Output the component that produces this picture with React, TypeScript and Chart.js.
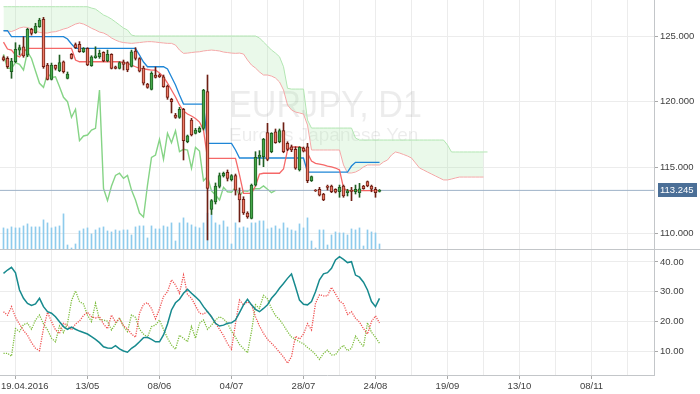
import React, { useEffect, useRef } from "react";
import { Chart, registerables } from "chart.js";

Chart.register(...registerables);

// ---------- data ----------
const symbolTitle = "EURJPY, D1";
const symbolSubtitle = "Euro vs Japanese Yen";
const xLabels = ["19.04.2016", "13/05", "08/06", "04/07", "28/07", "24/08", "19/09", "13/10", "08/11"];
const firstLabelBar = 3;
const labelEvery = 18;
const gridEvery = 9;
const gridCount = 18;
const priceTicks = [110, 115, 120, 125];
const oscTicks = [10, 20, 30, 40];
const lastPrice = 113.245;

const open = [123.36,123.30,122.28,123.04,123.93,124.18,123.55,125.51,125.25,125.71,126.27,122.79,121.70,122.77,122.36,123.04,121.78,123.61,124.35,124.37,123.80,124.06,122.74,123.35,123.42,123.76,123.10,123.61,122.66,122.54,123.04,122.98,122.69,123.86,123.29,122.56,121.34,120.94,122.03,122.03,121.90,121.19,120.18,118.98,118.81,119.42,116.95,118.60,117.59,117.71,117.97,120.76,111.79,112.36,113.54,114.34,114.62,114.07,114.38,112.99,112.57,111.52,111.12,113.65,115.76,115.81,117.64,116.19,117.71,116.95,117.79,116.83,116.57,116.37,114.80,116.47,116.57,113.98,113.27,113.33,112.97,113.58,113.58,113.33,113.14,113.58,113.07,113.27,113.14,113.07,113.58,113.91,113.58,113.33,113.16];
const high = [123.48,123.42,123.30,124.49,124.31,124.95,125.59,125.59,125.97,126.35,126.42,122.92,122.94,122.79,123.55,123.10,122.26,123.67,124.47,124.57,124.12,124.11,123.50,124.18,123.93,123.80,123.93,123.65,122.71,123.04,123.17,123.04,123.93,124.11,123.35,122.71,121.40,122.28,122.64,122.11,122.03,121.27,120.26,119.11,119.57,119.49,117.46,118.73,117.97,118.09,120.94,122.03,112.55,113.81,114.57,114.64,114.80,114.45,114.49,113.43,112.76,111.62,113.73,116.19,116.27,117.21,118.35,117.64,117.92,117.92,118.40,116.95,116.70,116.57,116.57,116.55,116.83,114.34,113.31,113.48,113.02,113.65,113.65,113.37,113.65,113.65,113.33,113.48,113.65,113.78,113.63,113.96,113.65,113.48,113.31];
const low = [123.10,122.54,121.78,122.97,123.55,123.38,123.42,125.07,125.20,125.66,122.54,121.65,121.65,122.41,122.28,122.18,121.73,123.25,124.05,123.76,123.74,122.74,122.69,123.30,123.30,123.04,123.04,122.49,122.49,122.49,122.41,122.28,122.64,123.17,122.26,121.27,121.02,120.89,121.80,121.84,121.09,120.18,119.14,118.73,118.73,115.56,116.87,117.39,117.54,117.64,117.84,109.47,111.41,112.21,113.43,114.26,113.96,113.96,112.89,110.84,111.41,111.12,111.07,113.58,115.18,115.05,115.50,116.11,116.83,116.87,116.11,116.27,116.19,114.85,114.72,116.17,113.83,113.92,113.16,112.82,112.46,113.27,113.07,113.05,112.72,112.72,112.82,112.46,112.97,112.72,113.33,113.52,113.14,112.72,113.12];
const close = [123.17,122.66,123.10,123.99,124.11,123.48,125.51,125.20,125.76,126.22,122.66,121.70,122.79,122.54,122.97,122.28,122.11,123.30,124.12,123.80,124.06,122.79,123.42,123.50,123.68,123.10,123.61,122.54,122.54,122.97,122.84,122.41,123.80,123.29,122.33,121.40,121.09,122.16,121.85,121.90,121.14,120.33,120.00,118.81,119.42,117.03,117.39,117.46,117.84,117.97,120.89,113.40,112.47,113.58,114.38,114.55,114.16,114.38,113.27,112.51,111.52,111.22,113.65,115.76,115.94,117.13,115.61,117.59,116.87,117.79,116.19,116.37,116.32,114.93,116.52,116.24,113.98,114.29,113.20,112.89,112.51,113.48,113.14,113.10,113.48,112.82,113.22,113.17,113.33,113.37,113.37,113.58,113.33,113.07,113.245];
const volume = [66,63,69,66,66,72,78,69,69,69,90,81,66,69,72,108,15,6,18,57,63,66,48,60,66,69,57,54,60,57,60,60,45,69,72,72,36,72,63,63,72,69,81,27,81,96,81,75,69,66,81,110,105,81,75,87,69,18,81,66,69,66,81,81,87,87,63,66,72,63,81,66,60,57,78,66,96,27,6,60,60,15,45,54,51,51,45,63,60,66,12,60,54,51,18];

const tenkan = [124.54,124.01,123.93,123.55,123.40,123.78,124.06,124.06,124.06,124.06,124.06,124.06,124.06,124.06,124.06,124.06,124.06,124.06,123.17,123.04,123.04,123.04,123.04,123.04,123.04,123.04,123.04,123.04,123.04,123.04,122.98,122.92,122.79,122.66,122.54,122.49,122.45,122.41,122.41,122.18,121.88,121.42,120.89,120.36,119.75,119.29,119.06,118.91,118.72,118.45,117.84,115.69,115.69,115.69,115.69,115.69,115.69,115.69,115.69,114.42,113.02,113.02,113.02,113.58,114.49,114.55,114.55,114.55,114.55,114.55,114.87,116.32,116.55,116.55,116.55,116.47,116.09,115.48,115.31,115.25,115.18,115.10,115.03,114.95,114.80,113.43,113.22,113.22,113.22,113.22,113.22,113.22,113.22,113.22,113.22];
const kijun = [125.40,125.40,124.95,124.95,124.95,124.95,124.95,124.95,124.95,124.95,124.95,124.95,124.95,124.95,124.95,124.95,124.77,124.39,124.06,124.06,124.06,124.06,124.06,124.06,124.06,124.06,124.06,124.06,124.06,124.06,124.06,124.06,124.06,124.06,123.55,123.02,122.66,122.66,122.66,122.66,122.66,122.49,121.88,121.27,120.51,119.82,119.82,119.82,119.82,119.82,119.82,116.83,116.83,116.83,116.83,116.83,116.83,116.83,116.32,115.71,115.71,115.71,115.71,115.71,115.71,115.71,115.71,115.71,115.71,115.71,115.71,115.71,115.71,115.71,115.71,115.71,114.64,114.64,114.64,114.64,114.64,114.64,114.64,114.64,114.64,114.64,114.64,115.10,115.38,115.38,115.38,115.38,115.38,115.38,115.38];
const chikou = [123.61,122.54,122.54,122.97,122.84,122.41,123.80,123.29,122.33,121.40,121.09,122.16,121.85,121.90,121.14,120.33,120.00,118.81,119.42,117.03,117.39,117.46,117.84,117.97,120.89,113.40,112.47,113.58,114.38,114.55,114.16,114.38,113.27,112.51,111.52,111.22,113.65,115.76,115.94,117.13,115.61,117.59,116.87,117.79,116.19,116.37,116.32,114.93,116.52,116.24,113.98,114.29,113.20,112.89,112.51,113.48,113.14,113.10,113.48,112.82,113.22,113.17,113.33,113.37,113.37,113.58,113.33,113.07,113.245];
const senkouA = [127.23,127.23,127.23,127.23,127.23,127.23,127.23,127.23,127.23,127.23,127.23,127.23,127.23,127.23,127.23,127.23,127.23,127.23,127.23,127.23,127.23,127.23,127.13,127.05,126.83,126.60,126.47,126.29,126.07,125.84,125.61,125.46,125.07,125.00,125.00,125.00,125.00,125.00,125.00,125.00,125.00,125.00,125.00,125.00,125.00,125.00,125.00,125.00,125.00,125.00,125.00,125.00,125.00,125.00,125.00,125.00,125.00,125.00,125.00,125.00,125.00,125.00,125.00,125.00,124.85,124.54,124.24,123.93,123.70,123.42,122.66,121.02,120.96,120.96,120.96,120.96,118.60,117.99,117.99,117.99,117.99,117.99,117.99,117.99,117.99,117.99,117.99,117.99,117.23,117.08,117.08,117.08,117.08,117.08,117.08,117.08,117.08,117.08,117.08,117.08,117.08,117.08,117.08,117.08,117.08,117.08,117.08,117.08,117.08,117.08,117.08,116.70,116.17,116.17,116.17,116.17,116.17,116.17,116.17,116.17,116.17,116.17];
const senkouB = [125.42,125.38,125.34,125.46,125.61,125.68,125.65,125.53,125.38,125.27,125.23,125.23,125.30,125.33,125.42,125.53,125.61,125.76,125.91,125.99,125.91,125.76,125.59,125.46,125.30,125.23,125.07,124.85,124.69,124.57,124.50,124.47,124.44,124.47,124.50,124.54,124.57,124.57,124.54,124.50,124.47,124.44,124.44,124.31,123.93,123.68,123.70,123.74,123.78,123.80,123.86,123.90,123.93,123.90,123.86,123.78,123.74,123.70,123.68,123.70,123.63,123.17,122.79,122.56,122.26,122.03,122.03,121.95,121.80,121.50,120.89,119.75,119.37,119.21,119.14,119.06,118.22,116.32,116.32,116.32,116.32,116.32,116.32,116.32,116.32,115.18,114.57,114.57,114.64,114.80,115.03,115.18,115.18,115.18,115.18,115.41,115.56,115.94,116.17,116.09,115.98,115.86,115.71,115.33,114.95,114.80,114.64,114.49,114.34,114.19,114.04,114.04,114.11,114.19,114.26,114.26,114.26,114.26,114.26,114.26,114.26];

const adx = [36.2,37.3,38.2,36.4,30.6,27.8,26.1,25.4,25.9,27.8,25.0,23.3,22.8,21.6,19.9,18.3,17.4,18.1,17.4,16.8,16.3,15.8,14.9,14.0,12.9,11.5,11.1,11.0,11.9,10.8,10.1,9.7,11.0,11.9,13.2,14.6,14.7,14.0,13.2,13.2,15.5,19.2,23.9,26.3,27.5,29.5,30.8,29.5,28.3,27.0,25.0,23.3,21.6,19.4,18.5,18.8,19.4,19.6,20.5,23.0,25.6,27.5,25.6,24.1,23.3,24.4,25.6,27.8,29.3,31.2,32.8,34.5,36.0,31.7,27.2,25.8,25.6,26.7,30.0,34.0,36.0,36.4,37.9,40.7,41.8,40.9,39.8,40.1,35.6,34.9,33.2,30.6,26.7,25.0,27.8];
const minusDI = [23.3,22.1,25.0,21.4,19.1,17.0,15.4,12.9,11.0,10.2,17.7,23.1,20.0,17.2,16.0,19.4,18.7,17.2,19.2,20.2,22.0,23.1,21.6,21.2,21.6,19.2,17.6,22.2,19.8,20.9,18.6,17.5,15.8,14.7,22.8,25.8,26.3,24.4,20.9,24.2,28.4,30.0,34.0,32.3,29.5,35.6,29.1,27.8,25.3,22.8,22.5,23.5,21.6,19.4,17.4,15.3,12.6,10.7,19.4,27.2,25.6,26.6,25.7,21.6,18.5,16.0,14.0,12.7,11.3,9.7,8.1,6.0,8.2,15.1,14.1,15.8,19.3,17.2,26.1,29.0,28.6,28.6,31.5,29.3,26.9,25.9,22.4,23.3,21.1,19.8,17.6,15.8,20.0,21.9,19.5];
const plusDI = [9.3,9.3,8.4,17.6,16.6,19.0,19.4,17.4,20.5,22.2,19.2,17.2,14.4,13.2,18.5,16.3,19.4,27.0,30.3,26.7,25.9,22.1,20.0,26.1,20.7,20.5,20.1,17.2,19.2,21.3,18.3,16.6,22.2,21.4,17.4,15.8,14.7,18.3,18.8,20.5,17.4,14.4,12.1,10.7,15.4,14.4,13.2,18.3,14.4,19.4,20.5,17.4,18.8,20.5,21.6,20.9,19.4,16.8,14.7,12.3,10.9,9.5,16.6,25.6,24.4,28.8,27.6,24.4,22.0,20.7,18.8,16.6,14.8,14.0,13.2,12.5,11.3,10.3,8.9,7.3,9.3,10.4,8.8,8.8,10.8,12.0,10.2,11.0,15.1,13.2,11.6,19.6,16.4,14.7,12.7];

// ---------- layout / style ----------
const X_MIN = -0.875;
const X_MAX = 162.625;
const PRICE_MIN = 108.706;
const PRICE_MAX = 127.742;
const OSC_MIN = 2.04;
const OSC_MAX = 44.03;
const VOL_MAX = 747;
const AXIS_W = 46;

const FONT = "'Liberation Sans', Arial, sans-serif";
const TICK_FONT = { family: FONT, size: 9.5 };
const TEXT = "#404040";
const GRID = "#ececec";
const AXIS = "#c3c6c9";
const TICKMARK = "#a9a9a9";

const G_FILL = "#45a84a";
const G_EDGE = "#1f5e22";
const R_FILL = "#ee7a66";
const R_EDGE = "#6e1f14";

const xy = (arr: number[]) => arr.map((v, i) => ({ x: i, y: v }));
const gridTicks = () => Array.from({ length: gridCount }, (_, m) => ({ value: firstLabelBar + gridEvery * m }));
const labelFor = (v: number) => {
  const m = (v - firstLabelBar) / labelEvery;
  if (!Number.isInteger(m) || m < 0 || m >= xLabels.length) return "";
  return m === 0 ? "       " + xLabels[0] : xLabels[m];
};
const isLabelTick = (v: number) => labelFor(v) !== "";

const yAxisFit = (s: any) => {
  s.width = AXIS_W;
  s.paddingTop = 0;
  s.paddingBottom = 0;
};

function topConfig(): any {
  const up = (i: number) => close[i] >= open[i];
  const n = open.length;
  const idxs = Array.from({ length: n }, (_, i) => i);
  return {
    type: "line",
    data: {
      datasets: [
        {
          type: "bar",
          label: "body",
          data: idxs.map((i) => ({ x: i, y: [Math.min(open[i], close[i]), Math.max(open[i], close[i])] })),
          backgroundColor: idxs.map((i) => (up(i) ? G_FILL : R_FILL)),
          borderColor: idxs.map((i) => (up(i) ? G_EDGE : R_EDGE)),
          borderWidth: 1,
          borderSkipped: false,
          barThickness: 3,
          grouped: false,
          order: 0,
        },
        {
          type: "bar",
          label: "wick",
          data: idxs.map((i) => ({ x: i, y: [low[i], high[i]] })),
          backgroundColor: idxs.map((i) => (up(i) ? G_EDGE : R_EDGE)),
          borderWidth: 0,
          barThickness: 1,
          grouped: false,
          order: 1,
        },
        { type: "line", label: "tenkan", data: xy(tenkan), borderColor: "rgba(244,96,96,0.95)", borderWidth: 1.3, pointRadius: 0, tension: 0, order: 2 },
        { type: "line", label: "kijun", data: xy(kijun), borderColor: "#1f86d6", borderWidth: 1.3, pointRadius: 0, tension: 0, order: 3 },
        {
          type: "line",
          label: "last",
          data: [{ x: X_MIN, y: lastPrice }, { x: X_MAX, y: lastPrice }],
          borderColor: "#9eb2c8",
          borderWidth: 1,
          pointRadius: 0,
          order: 4,
        },
        { type: "line", label: "chikou", data: xy(chikou), borderColor: "#86d486", borderWidth: 1.4, pointRadius: 0, tension: 0, order: 5 },
        {
          type: "bar",
          label: "volume",
          yAxisID: "yv",
          data: xy(volume),
          backgroundColor: "#8ecbec",
          borderWidth: 0,
          barThickness: 1,
          grouped: false,
          order: 6,
        },
        { type: "line", label: "senkouB", data: xy(senkouB), borderColor: "#f5a8a8", borderWidth: 1, pointRadius: 0, tension: 0, order: 7 },
        {
          type: "line",
          label: "senkouA",
          data: xy(senkouA),
          borderColor: "#b2e6b2",
          borderWidth: 1,
          pointRadius: 0,
          tension: 0,
          fill: "-1",
          backgroundColor: "rgba(160,226,160,0.22)",
          order: 8,
        },
      ],
    },
    options: {
      responsive: false,
      animation: false,
      events: [],
      layout: { padding: 0 },
      plugins: { legend: { display: false }, tooltip: { enabled: false } },
      scales: {
        x: {
          type: "linear",
          min: X_MIN,
          max: X_MAX,
          offset: false,
          grid: { color: GRID, drawTicks: false, offset: false },
          border: { display: false },
          ticks: { display: false },
          afterBuildTicks: (s: any) => { s.ticks = gridTicks(); },
          afterFit: (s: any) => { s.height = 0; s.paddingLeft = 0; s.paddingRight = 0; },
        },
        y: {
          position: "right",
          min: PRICE_MIN,
          max: PRICE_MAX,
          grid: { color: GRID, tickLength: 4, tickColor: TICKMARK },
          border: { color: AXIS },
          ticks: { font: TICK_FONT, color: TEXT, padding: 2, callback: (v: any) => Number(v).toFixed(3) },
          afterBuildTicks: (s: any) => { s.ticks = priceTicks.map((v) => ({ value: v })); },
          afterFit: yAxisFit,
        },
        yv: { display: false, min: 0, max: VOL_MAX },
      },
    },
    plugins: [
      {
        id: "watermark",
        beforeDatasetsDraw(chart: any) {
          const ctx = chart.ctx;
          ctx.save();
          ctx.fillStyle = "rgba(0,0,0,0.075)";
          ctx.textBaseline = "alphabetic";
          ctx.textAlign = "left";
          ctx.font = `37px ${FONT}`;
          ctx.fillText(symbolTitle, 229, 117, 193);
          ctx.font = `19px ${FONT}`;
          ctx.fillText(symbolSubtitle, 229, 141, 193);
          ctx.restore();
        },
      },
      {
        id: "priceTag",
        afterDraw(chart: any) {
          const ctx = chart.ctx;
          const y = chart.scales.y.getPixelForValue(lastPrice);
          const left = chart.chartArea.right + 4;
          ctx.save();
          ctx.fillStyle = "#4b6f97";
          ctx.fillRect(left, Math.round(y) - 7, 39, 14);
          ctx.fillStyle = "#ffffff";
          ctx.font = `9.5px ${FONT}`;
          ctx.textBaseline = "middle";
          ctx.textAlign = "left";
          ctx.fillText(lastPrice.toFixed(3), left + 2, Math.round(y));
          // pane separator
          ctx.strokeStyle = AXIS;
          ctx.lineWidth = 1;
          ctx.beginPath();
          ctx.moveTo(0, chart.height - 0.5);
          ctx.lineTo(chart.width, chart.height - 0.5);
          ctx.stroke();
          ctx.restore();
        },
      },
    ],
  };
}

function bottomConfig(): any {
  return {
    type: "line",
    data: {
      datasets: [
        { label: "ADX", data: xy(adx), borderColor: "#178a8e", borderWidth: 1.5, pointRadius: 0, tension: 0, order: 0 },
        { label: "-DI", data: xy(minusDI), borderColor: "#f05252", borderWidth: 1.3, borderDash: [1.2, 1.2], pointRadius: 0, tension: 0, order: 1 },
        { label: "+DI", data: xy(plusDI), borderColor: "#7dbd3c", borderWidth: 1.3, borderDash: [1.2, 1.2], pointRadius: 0, tension: 0, order: 2 },
      ],
    },
    options: {
      responsive: false,
      animation: false,
      events: [],
      layout: { padding: 0 },
      plugins: { legend: { display: false }, tooltip: { enabled: false } },
      scales: {
        x: {
          type: "linear",
          min: X_MIN,
          max: X_MAX,
          offset: false,
          grid: {
            color: GRID,
            tickLength: 4,
            tickColor: (c: any) => (c.tick && isLabelTick(c.tick.value) ? TICKMARK : "rgba(0,0,0,0)"),
          },
          border: { color: AXIS },
          ticks: {
            font: TICK_FONT,
            color: TEXT,
            padding: 2,
            autoSkip: false,
            maxRotation: 0,
            minRotation: 0,
            callback: (v: any) => labelFor(Number(v)),
          },
          afterBuildTicks: (s: any) => { s.ticks = gridTicks(); },
          afterFit: (s: any) => { s.height = 19; s.paddingLeft = 0; s.paddingRight = 0; },
        },
        y: {
          position: "right",
          min: OSC_MIN,
          max: OSC_MAX,
          grid: { color: GRID, tickLength: 4, tickColor: TICKMARK },
          border: { color: AXIS },
          ticks: { font: TICK_FONT, color: TEXT, padding: 2, callback: (v: any) => Number(v).toFixed(2) },
          afterBuildTicks: (s: any) => { s.ticks = oscTicks.map((v) => ({ value: v })); },
          afterFit: yAxisFit,
        },
      },
    },
  };
}

export default function App() {
  const topRef = useRef<HTMLCanvasElement>(null);
  const botRef = useRef<HTMLCanvasElement>(null);
  useEffect(() => {
    const top = new Chart(topRef.current as HTMLCanvasElement, topConfig());
    const bot = new Chart(botRef.current as HTMLCanvasElement, bottomConfig());
    return () => {
      top.destroy();
      bot.destroy();
    };
  }, []);
  return (
    <div style={{ position: "absolute", left: 0, top: 0, width: 700, height: 394, background: "#ffffff", overflow: "hidden" }}>
      <canvas ref={topRef} width={700} height={250} style={{ position: "absolute", left: 0, top: 0, width: 700, height: 250 }} />
      <canvas ref={botRef} width={700} height={144} style={{ position: "absolute", left: 0, top: 250, width: 700, height: 144 }} />
    </div>
  );
}
